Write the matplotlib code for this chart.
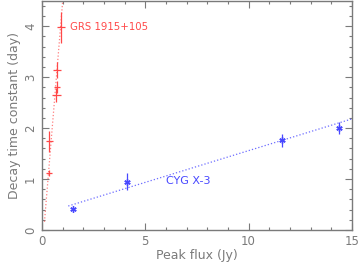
import numpy as np
import matplotlib.pyplot as plt
from matplotlib.ticker import MultipleLocator

# GRS 1915+105 (red)
grs_flux = [0.33, 0.36, 0.68, 0.71, 0.72, 0.90]
grs_flux_err = [0.15, 0.18, 0.22, 0.15, 0.20, 0.19]
grs_tau = [1.12, 1.74, 2.65, 2.81, 3.14, 3.98]
grs_tau_err = [0.06, 0.20, 0.13, 0.12, 0.15, 0.30]
grs_fit_x = [0.12, 1.0]
grs_fit_y = [0.16, 4.49]

# CYG X-3 (blue)
cyg_flux = [1.48, 4.10, 11.6, 14.38]
cyg_tau = [0.41, 0.95, 1.76, 2.00]
cyg_tau_err = [0.03, 0.17, 0.13, 0.12]
cyg_fit_x = [1.27, 15.0]
cyg_fit_y = [0.47, 2.18]

red = '#ff4848'
blue = '#4848ff'
grey = '#7a7a7a'

fig = plt.figure(figsize=(3.59, 2.64), dpi=100)
ax = fig.add_axes([0.117, 0.129, 0.863, 0.868])

ax.plot(grs_fit_x, grs_fit_y, color=red, linestyle=':', linewidth=0.9, alpha=0.7)
ax.errorbar(grs_flux, grs_tau, xerr=grs_flux_err, yerr=grs_tau_err,
            fmt='none', ecolor=red, elinewidth=0.9, capsize=0)

ax.plot(cyg_fit_x, cyg_fit_y, color=blue, linestyle=':', linewidth=0.9, alpha=0.8)
ax.errorbar(cyg_flux, cyg_tau, yerr=cyg_tau_err, fmt='none', ecolor=blue,
            elinewidth=0.9, capsize=0)
ax.plot(cyg_flux, cyg_tau, linestyle='none', marker=(6, 2, 0), markersize=4.5,
        color=blue, markeredgewidth=1.0)

ax.text(1.36, 3.98, 'GRS 1915+105', color=red, fontsize=7.3, va='center')
ax.text(6.0, 0.97, 'CYG X-3', color=blue, fontsize=8, va='center')

ax.set_xlim(0, 15)
ax.set_ylim(0, 4.5)
ax.xaxis.set_major_locator(MultipleLocator(5))
ax.xaxis.set_minor_locator(MultipleLocator(1))
ax.yaxis.set_major_locator(MultipleLocator(1))
ax.yaxis.set_minor_locator(MultipleLocator(0.2))
ax.tick_params(which='both', direction='in', top=True, right=True,
               colors=grey, labelsize=8.5, width=0.8)
ax.tick_params(which='major', length=5)
ax.tick_params(which='minor', length=2.5)
ax.tick_params(axis='y', labelrotation=90)
for lbl in ax.get_yticklabels():
    lbl.set_va('center')
for sp in ax.spines.values():
    sp.set_color(grey)
    sp.set_linewidth(1.0)

ax.set_xlabel('Peak flux (Jy)', color=grey, fontsize=9, labelpad=1)
ax.set_ylabel('Decay time constant (day)', color=grey, fontsize=9, labelpad=2)

fig.savefig('out.png', dpi=100)
